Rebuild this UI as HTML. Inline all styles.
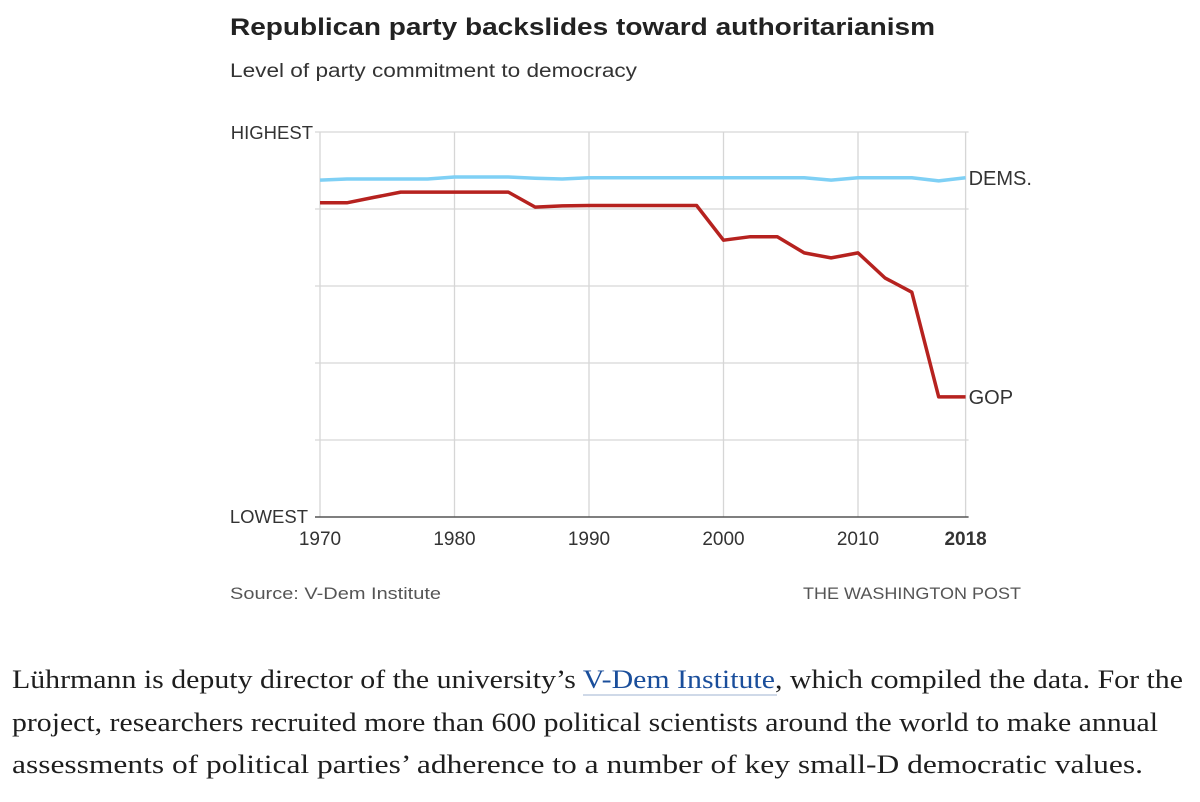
<!DOCTYPE html>
<html><head><meta charset="utf-8"><style>
html,body{margin:0;padding:0;background:#fff;}
svg{display:block;}
</style></head><body>
<svg id="chart" width="1200" height="802" viewBox="0 0 1200 802" xmlns="http://www.w3.org/2000/svg">
<text x="230" y="35" font-family="Liberation Sans, sans-serif" font-weight="bold" font-size="24" fill="#222" textLength="705" lengthAdjust="spacingAndGlyphs">Republican party backslides toward authoritarianism</text>
<text x="230" y="77" font-family="Liberation Sans, sans-serif" font-size="19" fill="#333" textLength="407" lengthAdjust="spacingAndGlyphs">Level of party commitment to democracy</text>
<g id="grid"></g>
<g id="axes"></g>
<g id="series"></g>
<text x="230" y="599" font-family="Liberation Sans, sans-serif" font-size="17" fill="#555" textLength="211" lengthAdjust="spacingAndGlyphs">Source: V-Dem Institute</text>
<text x="1021" y="599" text-anchor="end" font-family="Liberation Sans, sans-serif" font-size="17" fill="#555" textLength="218" lengthAdjust="spacingAndGlyphs">THE WASHINGTON POST</text>
<g font-family="Liberation Serif, serif" font-size="26.5" fill="#1e1e1e">
<text x="12" y="688" textLength="1171" lengthAdjust="spacingAndGlyphs">Lührmann is deputy director of the university’s <tspan fill="#1a4e9b">V-Dem Institute</tspan>, which compiled the data. For the</text>
<line x1="583" y1="695" x2="777" y2="695" stroke="#9fb3d1" stroke-width="1"/>
<text x="12" y="731" textLength="1146" lengthAdjust="spacingAndGlyphs">project, researchers recruited more than 600 political scientists around the world to make annual</text>
<text x="12" y="773" textLength="1131" lengthAdjust="spacingAndGlyphs">assessments of political parties’ adherence to a number of key small-D democratic values.</text>
</g>
</svg>
<script>
const years = [1970,1972,1974,1976,1978,1980,1982,1984,1986,1988,1990,1992,1994,1996,1998,2000,2002,2004,2006,2008,2010,2012,2014,2016,2018];
const gopValues = [81.6,81.6,83.0,84.4,84.4,84.4,84.4,84.4,80.5,80.8,80.9,80.9,80.9,80.9,80.9,71.9,72.8,72.8,68.6,67.3,68.6,62.1,58.4,31.2,31.2];
const demValues = [87.5,87.8,87.8,87.8,87.8,88.3,88.3,88.3,88.0,87.8,88.1,88.1,88.1,88.1,88.1,88.1,88.1,88.1,88.1,87.5,88.1,88.1,88.1,87.3,88.1];
const xTicks = [1970,1980,1990,2000,2010,2018];
const yGrid = [0,20,40,60,80,100];

const NS = "http://www.w3.org/2000/svg";
const X0=320, X1=965.6, Y0=517, Y1=132, YMIN=1970, YMAX=2018;
const x = v => X0 + (v-YMIN)/(YMAX-YMIN)*(X1-X0);
const y = v => Y0 - v/100*(Y0-Y1);
function mk(tag, attrs, parent){const e=document.createElementNS(NS,tag);for(const k in attrs)e.setAttribute(k,attrs[k]);parent.appendChild(e);return e;}
const grid=document.getElementById('grid'), axes=document.getElementById('axes'), series=document.getElementById('series');

yGrid.forEach(v=>{
  if(v===0) return;
  const l=mk('line',{x1:X0-5,x2:X1+3,y1:y(v),y2:y(v),stroke:'#d6d6d6','stroke-width':1.3},grid);
  
  
});
xTicks.forEach(v=>{
  const l=mk('line',{x1:x(v),x2:x(v),y1:Y1,y2:Y0,stroke:'#d6d6d6','stroke-width':1.3},grid);
  
  
  const t=mk('text',{x:x(v),y:545,'text-anchor':'middle','font-family':'Liberation Sans, sans-serif','font-size':19,fill:'#333','font-weight':v===2018?'bold':'normal'},axes);
  t.textContent=v;
  
  
});
const base=mk('line',{x1:X0-5,x2:X1+3,y1:Y0,y2:Y0,stroke:'#555','stroke-width':1.5},axes);


const hi=mk('text',{x:313,y:139,'text-anchor':'end','font-family':'Liberation Sans, sans-serif','font-size':18.5,fill:'#333'},axes);
hi.textContent='HIGHEST';


const lo=mk('text',{x:308,y:523,'text-anchor':'end','font-family':'Liberation Sans, sans-serif','font-size':18.5,fill:'#333'},axes);
lo.textContent='LOWEST';



function line(vals,color,name,label){
  const d=vals.map((v,i)=>(i?'L':'M')+x(years[i]).toFixed(1)+','+y(v).toFixed(1)).join(' ');
  const p=mk('path',{d:d,fill:'none',stroke:color,'stroke-width':3.5,'stroke-linejoin':'round'},series);
  
  
  const last=vals[vals.length-1];
  const t=mk('text',{x:X1+3,y:y(last)+7,'font-family':'Liberation Sans, sans-serif','font-size':20,fill:'#333'},series);
  t.textContent=label;
  
  
}
line(demValues,'#7fd0f5','dems-line','DEMS.');
line(gopValues,'#b6221f','gop-line','GOP');
</script>
</body></html>
